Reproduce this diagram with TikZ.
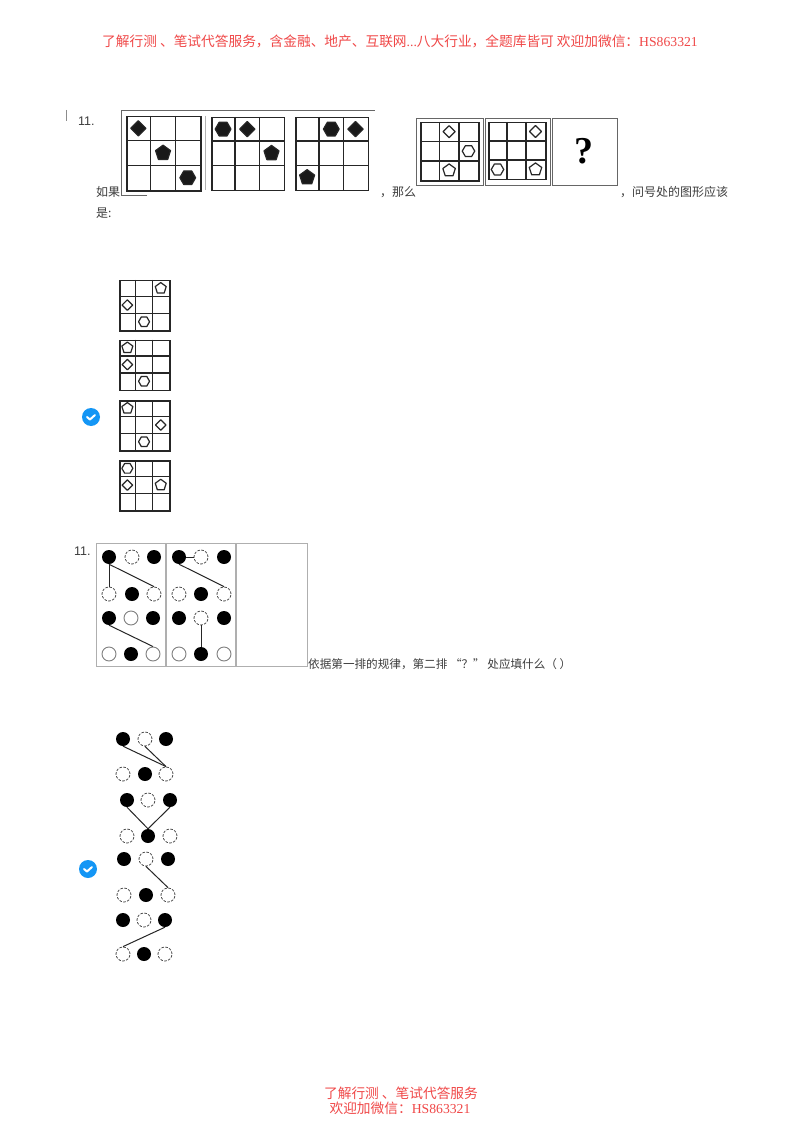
\documentclass[tikz,border=0pt]{standalone}
\usepackage{fontspec}
\setmainfont{Liberation Serif}
\newfontfamily\cjk{Noto Sans CJK SC}
\newfontfamily\arialfont{Liberation Sans}
\usetikzlibrary{positioning,shapes.geometric}
\definecolor{notered}{RGB}{240,72,72}
\definecolor{bodygray}{RGB}{60,60,60}
\definecolor{framegray}{RGB}{175,175,175}
\definecolor{badgeblue}{RGB}{20,150,245}
\newcommand{\marksize}{1}
\tikzset{
  notetext/.style={text=notered,inner sep=0pt,font=\fontsize{13.7}{15}\selectfont},
  bodytext/.style={text=bodygray,inner sep=0pt,anchor=west,font=\cjk\fontsize{12}{14}\selectfont},
  numtext/.style={text=bodygray,inner sep=0pt,anchor=west,font=\arialfont\fontsize{12.5}{14}\selectfont},
  gridline/.style={black!85,line width=1.5pt},
  gridframe/.style={draw=black!85,line width=1.5pt,inner sep=0pt,anchor=north west},
  markbase/.style={inner sep=0pt,draw=black!85,line width=1.2pt,fill=white,line join=round},
  fdia/.style={markbase,diamond,aspect=1,fill=black!90,minimum size=1.05*\marksize},
  fhex/.style={markbase,regular polygon,regular polygon sides=6,fill=black!90,minimum size=1.05*\marksize},
  fpen/.style={markbase,regular polygon,regular polygon sides=5,fill=black!90,minimum size=1.05*\marksize},
  odia/.style={markbase,diamond,aspect=1,minimum size=\marksize},
  ohex/.style={markbase,regular polygon,regular polygon sides=6,minimum size=\marksize},
  open/.style={markbase,regular polygon,regular polygon sides=5,minimum size=1.05*\marksize},
  fulldot/.style={circle,fill=black,inner sep=0pt,minimum size=\marksize},
  dashdot/.style={circle,draw=black!70,dash pattern=on 2.6pt off 1.4pt,line width=0.8pt,inner sep=0pt,minimum size=\marksize},
  ringdot/.style={circle,draw=black!50,line width=0.9pt,inner sep=0pt,minimum size=\marksize},
  link/.style={line width=1pt,black!85},
  badge/.style={circle,fill=badgeblue,inner sep=0pt,minimum size=18pt}
}
% left, top, cell size, name, marks
\newcommand{\puzzlegrid}[5]{
  \node[gridframe,minimum size=3*#3] (#4) at (#1,#2) {};
  \foreach \i in {1,2}{
    \draw[gridline] (#1+\i*#3,#2) -- (#1+\i*#3,#2+3*#3);
    \draw[gridline] (#1,#2+\i*#3) -- (#1+3*#3,#2+\i*#3);
  }
  \foreach \s/\c/\r in {#5}{
    \node[\s] (#4-\c\r) at (#1+\c*#3-0.5*#3,#2+\r*#3-0.5*#3) {};
  }
}
% name, x1, x2, x3, top y, bottom y, open top style, open bottom style
\newcommand{\dotgroup}[8]{
  \node[fulldot] (#1-t1) at (#2,#5) {};
  \node[#7] (#1-t2) at (#3,#5) {};
  \node[fulldot] (#1-t3) at (#4,#5) {};
  \node[#8] (#1-b1) at (#2,#6) {};
  \node[fulldot] (#1-b2) at (#3,#6) {};
  \node[#8] (#1-b3) at (#4,#6) {};
}
\newcommand{\okbadge}[3]{
  \node[badge] (#1) at (#2,#3) {};
  \draw[white,line width=2pt,line cap=round,line join=round,shift={(#2,#3)}] (-4,0) -- (-1,2.5) -- (4,-2);
}
\begin{document}
\begin{tikzpicture}[x=1pt,y=-1pt]
  \useasboundingbox[fill=white] (0,0) rectangle (800,1131);
  \node[notetext] (headnote) at (400,41) {{\cjk 了解行测 、笔试代答服务，含金融、地产、互联网}...{\cjk 八大行业，全题库皆可 欢迎加微信：}HS863321};
  \node[notetext] (foota) at (401,1093) {\cjk 了解行测 、笔试代答服务};
  \node[notetext] (footb) at (400,1108) {{\cjk 欢迎加微信：}HS863321};

  \node[numtext] (numa) at (78,121) {11.};
  \node[bodytext] (ifword) at (96,192) {如果};
  \node[bodytext] (thenword) at (380,192) {，那么};
  \node[bodytext] (askword) at (620,192) {，问号处的图形应该};
  \node[bodytext] (isword) at (96,213) {是:};
  \draw[black!45] (66,110) -- (66,121);

  \draw[black!60,line width=0.8pt] (147,195) -- (121,195) -- (121,110) -- (375,110);
  \renewcommand{\marksize}{15pt}
  \puzzlegrid{126}{116}{24.7}{rowa}{fdia/1/1,fpen/2/2,fhex/3/3}
  \puzzlegrid{211}{117}{24.2}{rowb}{fhex/1/1,fdia/2/1,fpen/3/2}
  \puzzlegrid{295}{117}{24.2}{rowc}{fhex/2/1,fdia/3/1,fpen/1/3}
  \draw[black!30] (205,116) -- (205,190);

  \draw[black!60,line width=0.8pt] (416,118) rectangle (483,185);
  \draw[black!60,line width=0.8pt] (485,118) rectangle (550,185);
  \node[draw=black!60,line width=0.8pt,inner sep=0pt,minimum width=65pt,minimum height=67pt,anchor=north west] (askbox) at (552,118) {};
  \node[inner sep=0pt,font=\fontsize{38}{40}\selectfont\bfseries] (askmark) at (584,151) {?};
  \renewcommand{\marksize}{12.5pt}
  \puzzlegrid{420}{122}{19.4}{rowd}{odia/2/1,ohex/3/2,open/2/3}
  \puzzlegrid{488}{122}{19}{rowe}{odia/3/1,ohex/1/3,open/3/3}

  \renewcommand{\marksize}{11pt}
  \puzzlegrid{119}{280}{16.7}{opta}{open/3/1,odia/1/2,ohex/2/3}
  \puzzlegrid{119}{339.5}{16.7}{optb}{open/1/1,odia/1/2,ohex/2/3}
  \puzzlegrid{119}{400}{16.7}{optc}{open/1/1,odia/3/2,ohex/2/3}
  \puzzlegrid{119}{460}{16.7}{optd}{ohex/1/1,odia/1/2,open/3/2}
  \okbadge{oka}{91}{417}

  \node[numtext] (numb) at (74,551) {11.};
  \node[draw=framegray,line width=1.2pt,inner sep=0pt,minimum width=211pt,minimum height=123pt,anchor=north west] (panel) at (96,543) {};
  \draw[framegray,line width=1.2pt] (166,543) -- (166,666);
  \draw[framegray,line width=1.2pt] (236,543) -- (236,666);
  \node[bodytext,font=\cjk\fontsize{11.6}{14}\selectfont] (lawword) at (308,664) {依据第一排的规律，第二排 “？” 处应填什么（ ）};

  \renewcommand{\marksize}{14pt}
  \dotgroup{pa}{109}{132}{154}{557}{594}{dashdot}{dashdot}
  \dotgroup{pb}{179}{201}{224}{557}{594}{dashdot}{dashdot}
  \dotgroup{pc}{109}{131}{153}{618}{654}{ringdot}{ringdot}
  \dotgroup{pd}{179}{201}{224}{618}{654}{dashdot}{ringdot}
  \dotgroup{qa}{123}{145}{166}{739}{774}{dashdot}{dashdot}
  \dotgroup{qb}{127}{148}{170}{800}{836}{dashdot}{dashdot}
  \dotgroup{qc}{124}{146}{168}{859}{895}{dashdot}{dashdot}
  \dotgroup{qd}{123}{144}{165}{920}{954}{dashdot}{dashdot}
  \foreach \a/\b in {pa-t1/pa-b1,pa-t1/pa-b3,pb-t1/pb-b3,pc-t1/pc-b3,pd-t2/pd-b2}{\draw[link] (\a.south) -- (\b.north);}
  \draw[link] (pb-t1) -- (pb-t2);
  \foreach \a/\b in {qa-t1/qa-b3,qa-t2/qa-b3,qb-t1/qb-b2,qb-t3/qb-b2,qc-t2/qc-b3,qd-t3/qd-b1}{\draw[link] (\a.south) -- (\b.north);}
  \okbadge{okb}{88}{869}
\end{tikzpicture}
\end{document}
